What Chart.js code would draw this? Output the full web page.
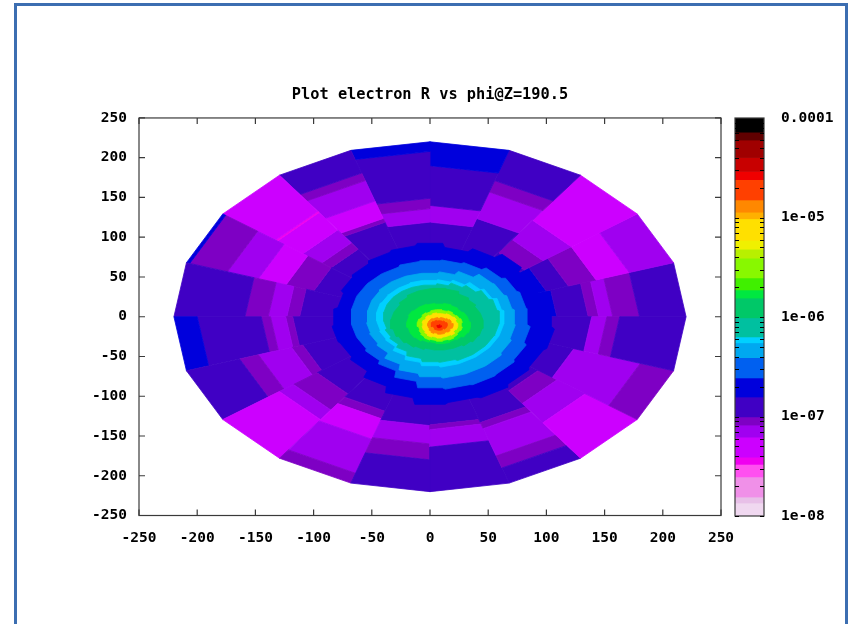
<!DOCTYPE html>
<html>
<head>
<meta charset="utf-8">
<title>Plot electron R vs phi</title>
<script src="https://cdn.jsdelivr.net/npm/chart.js@4"></script>
<style>
  html, body { margin: 0; padding: 0; background: #fff; overflow: hidden; }
  #page { position: relative; width: 853px; height: 624px; overflow: hidden; }
  #frame { position: absolute; left: 14px; top: 3px; width: 828px; height: 700px; border: 3px solid #3c6eb1; }
  canvas { position: absolute; left: 0; top: 0; }
</style>
</head>
<body>
<div id="page">
  <div id="frame"></div>
  <canvas id="plot" width="853" height="624"></canvas>
  <canvas id="bar" width="853" height="624"></canvas>
</div>
<script>
const plot_title = "Plot electron R vs phi@Z=190.5"
const axis_ticks = [-250, -200, -150, -100, -50, 0, 50, 100, 150, 200, 250]

// colour box: band edges from the top down, one colour per band
const bar_edges = [1e-4, 7.2e-5, 6e-5, 4e-5, 2.9e-5, 2.4e-5, 1.5e-5, 1.13e-5, 9.7e-6, 5.9e-6, 4.8e-6, 3.9e-6, 2.47e-6, 1.87e-6, 1.55e-6,
  9.8e-7, 6.3e-7, 5.5e-7, 3.9e-7, 2.44e-7, 1.57e-7, 9.9e-8, 8.2e-8, 6.2e-8, 3.9e-8, 3.3e-8, 2.47e-8, 1.55e-8, 1.35e-8, 1e-8]
const bar_colors = ["#000000", "#600000", "#a00000", "#c80000", "#f00000", "#ff4000", "#ff8800", "#ffb000", "#ffe000", "#f0f000", "#b8f000", "#88f800", "#40f000", "#00e840", "#00c868",
  "#00c0a0", "#00d0ff", "#00a8f0", "#0060f0", "#0000dc", "#4000c4", "#7e00c4", "#a000f0", "#cc00ff", "#f000f0", "#ff50f0", "#f090e8", "#e8c0e8", "#f0d8f0"]
const bar_tick_values = [1e-4, 1e-5, 1e-6, 1e-7, 1e-8]
const bar_tick_labels = ["0.0001", "1e-05", "1e-06", "1e-07", "1e-08"]

// outer part of the disc: 20 sectors of 18 degrees, going counter clockwise from phi=0
const B = 2e-7, I = 1.2e-7, D = 9e-8, P = 7e-8, M = 5e-8, L = 3.6e-8
const sector_step = 18
const sector_radii = [
  [109, 136, 145, 157, 180, 220],
  [105, 125, 150, 180, 220],
  [100, 120, 150, 220],
  [130, 165, 180, 220],
  [119, 140, 190, 220],
  [119, 136, 149, 208, 220],
  [125, 130, 153, 180, 190, 220],
  [105, 115, 135, 162, 164, 220],
  [105, 130, 155, 183, 217, 220],
  [112, 123, 139, 159, 220],
  [118, 124, 137, 145, 200, 220],
  [115, 125, 155, 172, 220],
  [120, 145, 160, 220],
  [125, 135, 162, 207, 220],
  [137, 160, 180, 220],
  [136, 142, 164, 220],
  [140, 148, 184, 200, 220],
  [115, 135, 165, 220],
  [130, 190, 220],
  [139, 152, 163, 220]
]
const sector_values = [
  [B, I, D, P, D, I],
  [B, I, D, M, P],
  [I, D, P, M],
  [I, P, D, I],
  [I, P, I, B],
  [I, P, D, I, B],
  [I, D, M, P, D, I],
  [I, D, P, M, L, M],
  [I, D, M, P, D, B],
  [I, D, P, D, I],
  [I, D, P, D, I, B],
  [I, D, P, D, I],
  [I, D, P, M],
  [I, D, M, P, D],
  [I, P, D, I],
  [I, D, P, I],
  [I, D, P, D, I],
  [I, D, P, M],
  [I, P, D],
  [I, P, D, I]
]

// the shower core: level curves, radius every 15 degrees, outermost first
const core_step = 15
const core_values = [2e-7, 3e-7, 4.7e-7, 5.9e-7, 8e-7, 1.2e-6, 1.7e-6, 3e-6, 7e-6, 1.3e-5, 2e-5, 2.6e-5]
const core_x0 = [0, 0, 0, 0, 0, 8, 8, 8, 8, 8, 8, 8]
const core_y0 = [0, 0, 0, 0, 0, -10, -10, -10, -10, -10, -10, -12]
const core_radii = [
  [105, 98, 95, 100, 93, 88, 93, 90, 88, 85, 83, 80, 83, 85, 84, 87, 95, 103, 111, 109, 111, 108, 106, 108],
  [84, 83, 81, 78, 74, 72, 71, 70, 68, 68, 68, 68, 68, 68, 68, 70, 74, 82, 90, 92, 93, 92, 90, 87],
  [73, 71, 69, 68, 62, 57, 55, 55, 55, 55, 54, 54, 54, 55, 56, 58, 65, 72, 76, 78, 78, 78, 76, 74],
  [64, 62, 58, 55, 50, 47, 46, 46, 45, 45, 45, 46, 46, 46, 47, 48, 53, 58, 62, 64, 64, 64, 64, 64],
  [60, 58, 55, 50, 46, 42, 40, 40, 40, 40, 40, 40, 40, 40, 42, 44, 48, 53, 57, 58, 60, 60, 60, 60],
  [38, 38, 38, 40, 42, 45, 46, 46, 46, 44, 42, 42, 42, 40, 38, 36, 34, 32, 32, 32, 32, 34, 36, 37],
  [27, 26, 26, 25, 26, 27, 26, 27, 28, 28, 29, 28, 28, 27, 27, 26, 24, 23, 24, 24, 23, 24, 26, 27],
  [19, 20, 19, 18, 19, 18, 19, 19, 18, 19, 18, 19, 19, 18, 19, 20, 21, 20, 21, 20, 21, 20, 19, 20],
  [16, 15, 16, 15, 15, 14, 14, 15, 14, 15, 14, 15, 14, 15, 15, 16, 17, 16, 17, 16, 16, 17, 15, 16],
  [12, 11, 11, 10, 9, 9, 8, 9, 9, 10, 10, 10, 10, 10, 10, 11, 12, 11, 12, 12, 11, 12, 11, 12],
  [7, 7, 6, 6, 5, 5, 5, 5, 6, 6, 7, 7, 7, 7, 6, 6, 7, 7, 7, 7, 6, 7, 7, 7],
  [2, 2, 1, 1, 1, 2, 2, 1, 1, 2, 2, 2, 2, 1, 1, 2, 2, 1, 1, 2, 2, 1, 1, 2]
]

const tick_font = { family: "DejaVu Sans Mono", weight: "bold", size: 14.5 }

function color_of(v) {
  for (let i = 0; i < bar_colors.length; i++) {
    if (v >= bar_edges[i + 1]) return bar_colors[i]
  }
  return bar_colors[bar_colors.length - 1]
}

function polar(r, deg, x0, y0) {
  const a = deg * Math.PI / 180
  return { x: x0 + r * Math.cos(a), y: y0 + r * Math.sin(a) }
}

function shape(points, v) {
  const c = color_of(v)
  return { data: points, showLine: true, fill: "shape", backgroundColor: c, borderColor: c, borderWidth: 0.8, pointRadius: 0, tension: 0 }
}

let layers = []
sector_radii.forEach((radii, s) => {
  const a0 = s * sector_step, a1 = a0 + sector_step
  radii.forEach((r, k) => {
    const r0 = k === 0 ? 0 : radii[k - 1]
    layers.push(shape([polar(r0, a0, 0, 0), polar(r, a0, 0, 0), polar(r, a1, 0, 0), polar(r0, a1, 0, 0), polar(r0, a0, 0, 0)], sector_values[s][k]))
  })
})
core_radii.forEach((radii, c) => {
  // each radius holds over its bin, the picture has blocky edges here
  let pts = []
  radii.forEach((r, i) => {
    const a = i * core_step
    pts.push(polar(r, a - core_step * 0.45, core_x0[c], core_y0[c]))
    pts.push(polar(r, a + core_step * 0.45, core_x0[c], core_y0[c]))
  })
  pts.push(pts[0])
  layers.push(shape(pts, core_values[c]))
})
// chart.js paints the first dataset last, so the core has to come first
layers.reverse()

// gnuplot style box: ticks point inwards on all four sides
const plot_box = {
  id: "plot_box",
  afterDatasetsDraw(chart) {
    const { ctx, chartArea: a, scales } = chart
    ctx.save()
    ctx.strokeStyle = "#3a3a3a"
    ctx.lineWidth = 1.2
    ctx.strokeRect(a.left, a.top, a.right - a.left, a.bottom - a.top)
    ctx.beginPath()
    axis_ticks.forEach((t) => {
      const x = scales.x.getPixelForValue(t), y = scales.y.getPixelForValue(t)
      ctx.moveTo(x, a.top); ctx.lineTo(x, a.top + 6)
      ctx.moveTo(x, a.bottom); ctx.lineTo(x, a.bottom - 6)
      ctx.moveTo(a.left, y); ctx.lineTo(a.left + 6, y)
      ctx.moveTo(a.right, y); ctx.lineTo(a.right - 6, y)
    })
    ctx.stroke()
    ctx.restore()
  }
}

new Chart(document.getElementById("plot"), {
  type: "scatter",
  data: { datasets: layers },
  options: {
    responsive: false,
    animation: false,
    events: [],
    layout: { padding: { right: 132 } },
    plugins: {
      legend: { display: false },
      tooltip: { enabled: false },
      title: {
        display: true, text: plot_title, color: "#000", fullSize: false,
        font: { family: "DejaVu Sans Mono", weight: "bold", size: 15.3 },
        padding: { top: 86, bottom: 13.6 }
      }
    },
    scales: {
      x: {
        type: "linear", min: -250, max: 250,
        grid: { display: false, drawTicks: false }, border: { display: false },
        afterBuildTicks(s) { s.ticks = axis_ticks.map((v) => ({ value: v })) },
        afterFit(s) { s.height = 108.5 },
        ticks: { color: "#000", font: tick_font, padding: 14, maxRotation: 0, autoSkip: false }
      },
      y: {
        type: "linear", min: -250, max: 250,
        grid: { display: false, drawTicks: false }, border: { display: false },
        afterBuildTicks(s) { s.ticks = axis_ticks.map((v) => ({ value: v })) },
        afterFit(s) { s.width = 139 },
        ticks: { color: "#000", font: tick_font, padding: 12, autoSkip: false }
      }
    }
  },
  plugins: [plot_box]
})

let bar_sets = bar_colors.map((c, i) => ({
  data: [[bar_edges[i + 1], bar_edges[i]]], backgroundColor: c, borderWidth: 0,
  barPercentage: 1, categoryPercentage: 1, grouped: false
}))

const bar_box = {
  id: "bar_box",
  afterDatasetsDraw(chart) {
    const { ctx, chartArea: a, scales } = chart
    ctx.save()
    ctx.strokeStyle = "#3a3a3a"
    ctx.lineWidth = 1.2
    ctx.strokeRect(a.left, a.top, a.right - a.left, a.bottom - a.top)
    ctx.strokeStyle = "#000"
    ctx.lineWidth = 1
    ctx.beginPath()
    bar_tick_values.slice(1).forEach((decade) => {
      for (let m = 1; m < 10; m++) {
        const y = Math.round(scales.y.getPixelForValue(decade * m)) + 0.5
        ctx.moveTo(a.left, y); ctx.lineTo(a.left + 4, y)
        ctx.moveTo(a.right, y); ctx.lineTo(a.right - 4, y)
      }
    })
    ctx.stroke()
    ctx.restore()
  }
}

new Chart(document.getElementById("bar"), {
  type: "bar",
  data: { labels: [""], datasets: bar_sets },
  options: {
    responsive: false,
    animation: false,
    events: [],
    layout: { padding: { left: 735, top: 118, bottom: 108 } },
    plugins: { legend: { display: false }, tooltip: { enabled: false } },
    scales: {
      x: { display: false },
      y: {
        type: "logarithmic", position: "right", min: 1e-8, max: 1e-4,
        grid: { display: false, drawTicks: false }, border: { display: false },
        afterBuildTicks(s) { s.ticks = bar_tick_values.map((v) => ({ value: v })) },
        afterFit(s) { s.width = 89 },
        ticks: {
          color: "#000", font: tick_font, padding: 17, autoSkip: false,
          callback(v, i) { return bar_tick_labels[i] }
        }
      }
    }
  },
  plugins: [bar_box]
})
</script>
</body>
</html>
